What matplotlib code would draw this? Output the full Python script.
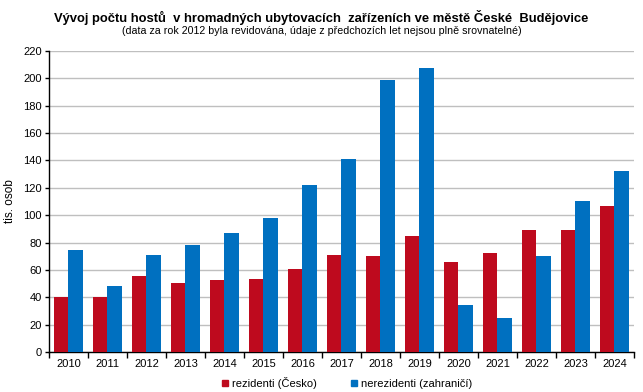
import numpy as np
import matplotlib
matplotlib.use("Agg")
import matplotlib.pyplot as plt
from matplotlib.lines import Line2D

plt.rcParams['font.family'] = ['Liberation Sans', 'DejaVu Sans']

# data (tis. osob)
years = ['2010', '2011', '2012', '2013', '2014', '2015', '2016', '2017',
         '2018', '2019', '2020', '2021', '2022', '2023', '2024']
rezidenti = [40.5, 40.0, 55.9, 50.7, 52.9, 53.7, 61.0, 71.2,
             69.8, 85.1, 66.1, 72.7, 89.5, 88.8, 106.4]
nerezidenti = [74.9, 48.5, 71.2, 78.5, 87.3, 97.6, 121.7, 140.8,
               198.6, 207.4, 34.6, 25.1, 70.5, 110.0, 132.0]

red = '#BE0A1E'
blue = '#0070C0'

fig = plt.figure(figsize=(6.43, 3.92), dpi=100)
ax = fig.add_axes([0.0762, 0.102, 0.9098, 0.768])

x = np.arange(len(years))
w = 0.36
ax.bar(x - w / 2, rezidenti, width=w, color=red, zorder=3)
ax.bar(x + w / 2, nerezidenti, width=w, color=blue, zorder=3)

ax.set_xlim(-0.5, len(years) - 0.5)
ax.set_ylim(0, 220)
ax.set_yticks(np.arange(0, 221, 20))
ax.tick_params(axis='y', labelsize=8, length=3, width=1, pad=2)
ax.yaxis.grid(True, color='#BFBFBF', linewidth=1, zorder=0)

# ticks between categories, labels in the middle
ax.set_xticks(np.arange(-0.5, len(years), 1.0))
ax.set_xticklabels([])
ax.set_xticks(x, minor=True)
ax.set_xticklabels(years, minor=True, fontsize=8)
ax.tick_params(axis='x', which='major', length=4, width=1)
ax.tick_params(axis='x', which='minor', length=0, pad=5)

for s in ['top', 'right']:
    ax.spines[s].set_visible(False)
for s in ['left', 'bottom']:
    ax.spines[s].set_linewidth(1)
    ax.spines[s].set_color('black')

ax.set_ylabel('tis. osob', fontsize=8.5, labelpad=5)

fig.text(0.5, 0.955, 'Vývoj počtu hostů  v hromadných ubytovacích  zařízeních ve městě České  Budějovice',
         ha='center', va='center', fontsize=9.4, fontweight='bold')
fig.text(0.5, 0.922, '(data za rok 2012 byla revidována, údaje z předchozích let nejsou plně srovnatelné)',
         ha='center', va='center', fontsize=7.7)

handles = [Line2D([], [], marker='s', linestyle='none', color=red, markersize=4),
           Line2D([], [], marker='s', linestyle='none', color=blue, markersize=4)]
fig.legend(handles, ['rezidenti (Česko)', 'nerezidenti (zahraničí)'],
           loc='center', bbox_to_anchor=(0.538, 0.022), ncol=2, frameon=False,
           fontsize=8, handletextpad=0.1, columnspacing=2.9, handlelength=1)

fig.savefig('out.png', dpi=100)
